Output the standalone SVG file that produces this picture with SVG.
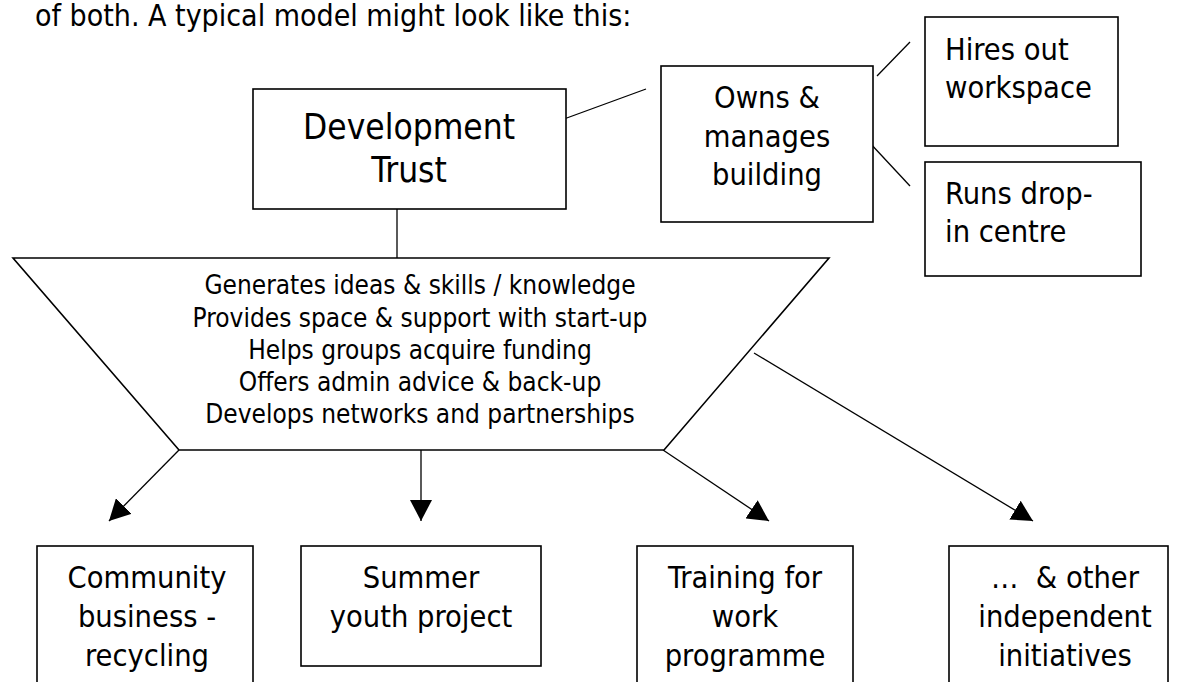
<svg xmlns="http://www.w3.org/2000/svg" width="1178" height="682" viewBox="0 0 1178 682">
  <defs>
    <style>
      text { font-family: "DejaVu Sans Condensed", "DejaVu Sans", sans-serif; font-stretch: condensed; fill: #000; }
      .box { fill: #fff; stroke: #000; stroke-width: 1.6; }
      .link { fill: none; stroke: #000; stroke-width: 1.3; }
      .mid { text-anchor: middle; }
      .t30 { font-size: 30.5px; }
      .t35 { font-size: 35px; }
      .t26 { font-size: 26px; }
    </style>
    <marker id="arrow" markerUnits="userSpaceOnUse" markerWidth="22" markerHeight="22" refX="21" refY="11" orient="auto">
      <path d="M0,0 L21,11 L0,22 z" fill="#000"/>
    </marker>
  </defs>
  <rect width="1178" height="682" fill="#fff"/>

  <text id="intro" x="35" y="26" style="font-size:30px">of both. A typical model might look like this:</text>

  <!-- connectors -->
  <g id="connectors">
    <line class="link" x1="397" y1="209" x2="397" y2="258"/>
    <line class="link" x1="564" y1="119" x2="646" y2="89"/>
    <line class="link" x1="877" y1="76" x2="910" y2="42"/>
    <line class="link" x1="869" y1="142" x2="910" y2="186"/>
    <line class="link" x1="179" y1="450" x2="109" y2="521" marker-end="url(#arrow)"/>
    <line class="link" x1="421" y1="450" x2="421" y2="521" marker-end="url(#arrow)"/>
    <line class="link" x1="663" y1="450" x2="769" y2="521" marker-end="url(#arrow)"/>
    <line class="link" x1="754" y1="353" x2="1033" y2="521" marker-end="url(#arrow)"/>
  </g>

  <g id="trust">
    <rect class="box" x="253" y="89" width="313" height="120"/>
    <text class="mid t35" x="409" y="139">Development</text>
    <text class="mid t35" x="409" y="182">Trust</text>
  </g>

  <g id="building">
    <rect class="box" x="661" y="66" width="212" height="156"/>
    <text class="mid t30" x="767" y="108">Owns &amp;</text>
    <text class="mid t30" x="767" y="147">manages</text>
    <text class="mid t30" x="767" y="185">building</text>
  </g>

  <g id="workspace">
    <rect class="box" x="925" y="17" width="193" height="129"/>
    <text class="t30" x="945" y="60">Hires out</text>
    <text class="t30" x="945" y="98">workspace</text>
  </g>

  <g id="dropin">
    <rect class="box" x="925" y="162" width="216" height="114"/>
    <text class="t30" x="945" y="204">Runs drop-</text>
    <text class="t30" x="945" y="242">in centre</text>
  </g>

  <g id="support">
    <path class="box" d="M13,258 L829,258 L664,450 L179,450 Z"/>
    <text class="mid t26" x="420" y="294">Generates ideas &amp; skills / knowledge</text>
    <text class="mid t26" x="420" y="327">Provides space &amp; support with start-up</text>
    <text class="mid t26" x="420" y="359">Helps groups acquire funding</text>
    <text class="mid t26" x="420" y="391">Offers admin advice &amp; back-up</text>
    <text class="mid t26" x="420" y="423">Develops networks and partnerships</text>
  </g>

  <g id="recycling">
    <rect class="box" x="37" y="546" width="216" height="160"/>
    <text class="mid t30" x="147" y="588">Community</text>
    <text class="mid t30" x="147" y="627">business -</text>
    <text class="mid t30" x="147" y="666">recycling</text>
  </g>

  <g id="youth">
    <rect class="box" x="301" y="546" width="240" height="120"/>
    <text class="mid t30" x="421" y="588">Summer</text>
    <text class="mid t30" x="421" y="627">youth project</text>
  </g>

  <g id="training">
    <rect class="box" x="637" y="546" width="216" height="160"/>
    <text class="mid t30" x="745" y="588">Training for</text>
    <text class="mid t30" x="745" y="627">work</text>
    <text class="mid t30" x="745" y="666">programme</text>
  </g>

  <g id="others">
    <rect class="box" x="949" y="546" width="219" height="160"/>
    <text class="mid t30" x="1065" y="588" style="white-space:pre">…  &amp; other</text>
    <text class="mid t30" x="1065" y="627">independent</text>
    <text class="mid t30" x="1065" y="666">initiatives</text>
  </g>
</svg>
